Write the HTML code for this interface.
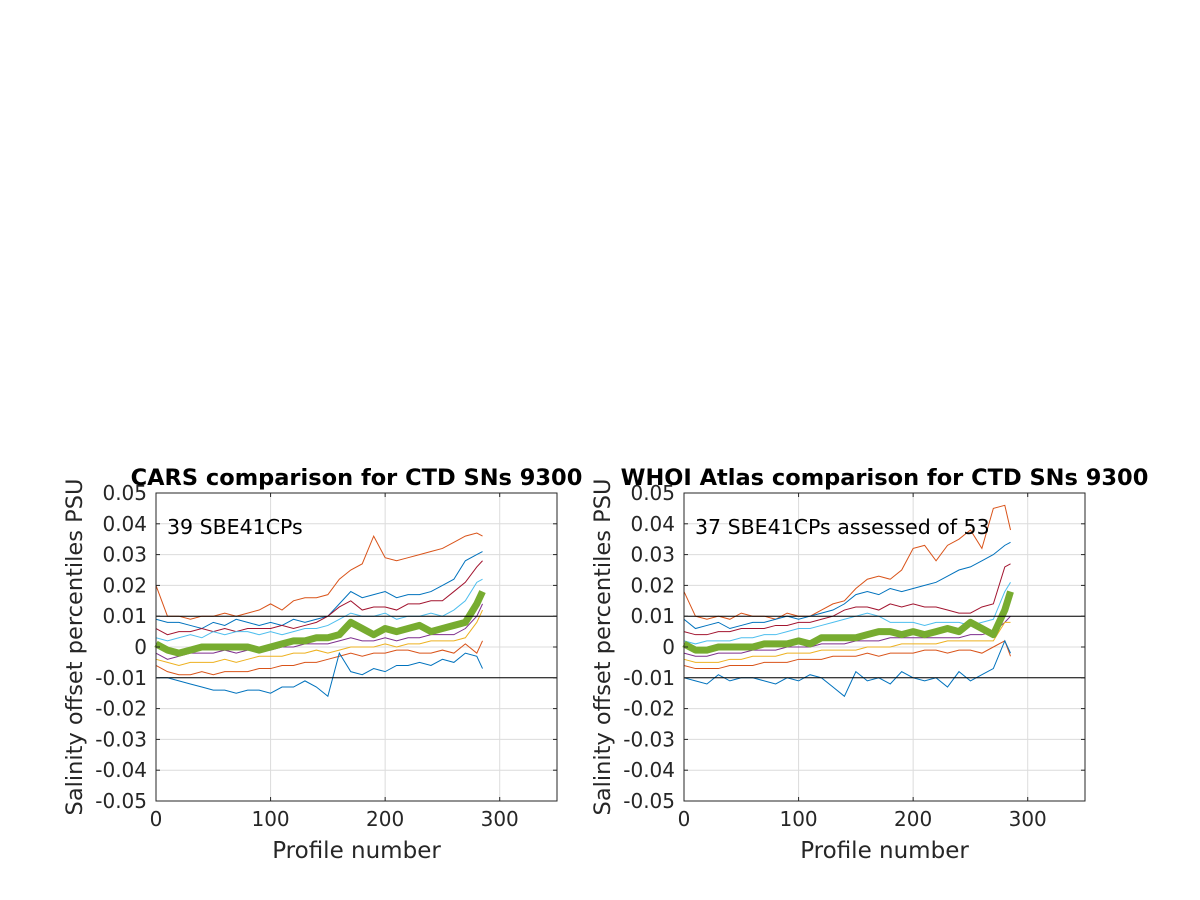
<!DOCTYPE html>
<html><head><meta charset="utf-8"><style>
html,body{margin:0;padding:0;background:#fff;}
svg{display:block;font-family:"DejaVu Sans","Liberation Sans",sans-serif;}
</style></head><body>
<svg id="fig" width="1200" height="900" viewBox="0 0 1200 900"></svg>
<script>
const xTicks=[0,100,200,300];
const yTicks=[0.05,0.04,0.03,0.02,0.01,0,-0.01,-0.02,-0.03,-0.04,-0.05];
const yTickLabels=["0.05","0.04","0.03","0.02","0.01","0","-0.01","-0.02","-0.03","-0.04","-0.05"];
const profiles=[0,10,20,30,40,50,60,70,80,90,100,110,120,130,140,150,160,170,180,190,200,210,220,230,240,250,260,270,280,285];
const seriesColors=["#D95319","#0072BD","#A2142F","#4DBEEE","#7E2F8E","#EDB120","#D95319","#0072BD"];
const L_O1=[.020,.010,.010,.009,.010,.010,.011,.010,.011,.012,.014,.012,.015,.016,.016,.017,.022,.025,.027,.036,.029,.028,.029,.030,.031,.032,.034,.036,.037,.036];
const L_B1=[.009,.008,.008,.007,.006,.008,.007,.009,.008,.007,.008,.007,.009,.008,.009,.010,.014,.018,.016,.017,.018,.016,.017,.017,.018,.020,.022,.028,.030,.031];
const L_R=[.006,.004,.005,.005,.006,.005,.006,.005,.006,.006,.006,.007,.006,.007,.008,.010,.013,.015,.012,.013,.013,.012,.014,.014,.015,.015,.018,.021,.026,.028];
const L_LB=[.003,.002,.003,.004,.003,.005,.004,.005,.005,.004,.005,.004,.005,.006,.006,.007,.009,.011,.010,.010,.011,.009,.010,.010,.011,.010,.012,.015,.021,.022];
const L_P=[-.002,-.004,-.003,-.002,-.002,-.002,-.001,-.002,-.001,-.001,-.001,.000,.000,.001,.001,.001,.002,.003,.002,.002,.003,.002,.003,.003,.004,.004,.004,.006,.010,.014];
const L_Y=[-.004,-.005,-.006,-.005,-.005,-.005,-.004,-.005,-.004,-.003,-.003,-.003,-.002,-.002,-.001,-.002,-.001,.000,.000,.000,.001,.000,.001,.001,.002,.002,.002,.003,.008,.012];
const L_O2=[-.006,-.008,-.009,-.009,-.008,-.009,-.008,-.008,-.008,-.007,-.007,-.006,-.006,-.005,-.005,-.004,-.003,-.002,-.003,-.002,-.002,-.001,-.001,-.002,-.002,-.001,-.002,.001,-.002,.002];
const L_B2=[-.010,-.010,-.011,-.012,-.013,-.014,-.014,-.015,-.014,-.014,-.015,-.013,-.013,-.011,-.013,-.016,-.002,-.008,-.009,-.007,-.008,-.006,-.006,-.005,-.006,-.004,-.005,-.002,-.003,-.007];
const L_G=[.001,-.001,-.002,-.001,.000,.000,.000,.000,.000,-.001,.000,.001,.002,.002,.003,.003,.004,.008,.006,.004,.006,.005,.006,.007,.005,.006,.007,.008,.014,.018];
const R_O1=[.018,.010,.009,.010,.009,.011,.010,.010,.009,.011,.010,.010,.012,.014,.015,.019,.022,.023,.022,.025,.032,.033,.028,.033,.035,.038,.032,.045,.046,.038];
const R_B1=[.009,.006,.007,.008,.006,.007,.008,.008,.009,.010,.009,.010,.011,.012,.014,.017,.018,.017,.019,.018,.019,.020,.021,.023,.025,.026,.028,.030,.033,.034];
const R_R=[.005,.004,.004,.005,.005,.006,.006,.006,.007,.007,.008,.008,.009,.010,.012,.013,.013,.012,.014,.013,.014,.013,.013,.012,.011,.011,.013,.014,.026,.027];
const R_LB=[.002,.001,.002,.002,.002,.003,.003,.004,.004,.005,.006,.006,.007,.008,.009,.010,.011,.010,.008,.008,.008,.007,.008,.008,.008,.007,.008,.009,.018,.021];
const R_P=[-.002,-.003,-.003,-.002,-.002,-.002,-.001,-.001,-.001,.000,.000,.000,.001,.001,.001,.002,.002,.002,.003,.003,.003,.003,.003,.003,.003,.004,.004,.005,.008,.010];
const R_Y=[-.004,-.005,-.005,-.005,-.004,-.004,-.003,-.003,-.003,-.002,-.002,-.002,-.001,-.001,-.001,-.001,.000,.000,.000,.001,.001,.001,.001,.002,.002,.002,.002,.002,.008,.008];
const R_O2=[-.006,-.007,-.007,-.007,-.006,-.006,-.006,-.005,-.005,-.005,-.004,-.004,-.004,-.003,-.003,-.003,-.002,-.003,-.002,-.002,-.002,-.001,-.001,-.002,-.001,-.001,-.002,.000,.002,-.003];
const R_B2=[-.010,-.011,-.012,-.009,-.011,-.010,-.010,-.011,-.012,-.010,-.011,-.009,-.010,-.013,-.016,-.008,-.011,-.010,-.012,-.008,-.010,-.011,-.010,-.013,-.008,-.011,-.009,-.007,.002,-.002];
const R_G=[.001,-.001,-.001,.000,.000,.000,.000,.001,.001,.001,.002,.001,.003,.003,.003,.003,.004,.005,.005,.004,.005,.004,.005,.006,.005,.008,.006,.004,.012,.018];

const NS="http://www.w3.org/2000/svg";
const svg=document.getElementById('fig');
function mk(tag,attrs,parent){const e=document.createElementNS(NS,tag);for(const k in attrs)e.setAttribute(k,attrs[k]);(parent||svg).appendChild(e);return e;}

function panel(x0,x1,title,note,lines,green,pname){
  const y0=493,y1=801;
  const sx=v=>x0+(v/350)*(x1-x0);
  const sy=v=>y0+(0.05-v)/0.1*(y1-y0);
  const g=mk('g',{});
  
  
  xTicks.forEach(t=>{const l=mk('line',{x1:sx(t),x2:sx(t),y1:y0,y2:y1,stroke:'#dcdcdc','stroke-width':1},g);
    });
  yTicks.forEach(t=>{const l=mk('line',{x1:x0,x2:x1,y1:sy(t),y2:sy(t),stroke:'#dcdcdc','stroke-width':1},g);
    });
  lines.forEach((arr,i)=>{
    const p=mk('polyline',{points:arr.map((v,j)=>sx(profiles[j])+','+sy(v)).join(' '),fill:'none',stroke:seriesColors[i],'stroke-width':1},g);
    
    
  });
  const gl=mk('polyline',{points:green.map((v,j)=>sx(profiles[j])+','+sy(v)).join(' '),fill:'none',stroke:'#77AC30','stroke-width':7,'stroke-linejoin':'round'},g);
  
  
  [0.01,-0.01].forEach(v=>{const l=mk('line',{x1:x0,x2:x1,y1:sy(v),y2:sy(v),stroke:'#000','stroke-width':1},g);
    });
  const b=mk('rect',{x:x0,y:y0,width:x1-x0,height:y1-y0,fill:'none',stroke:'#262626','stroke-width':1},g);
  
  xTicks.forEach(t=>{
    mk('line',{x1:sx(t),x2:sx(t),y1:y1,y2:y1-4,stroke:'#262626'},g);
    mk('line',{x1:sx(t),x2:sx(t),y1:y0,y2:y0+4,stroke:'#262626'},g);
    const tx=mk('text',{x:sx(t),y:y1+25,'text-anchor':'middle','font-size':20,fill:'#262626'},g);
    tx.textContent=t;
    
  });
  yTicks.forEach((t,i)=>{
    mk('line',{x1:x0,x2:x0+4,y1:sy(t),y2:sy(t),stroke:'#262626'},g);
    mk('line',{x1:x1,x2:x1-4,y1:sy(t),y2:sy(t),stroke:'#262626'},g);
    const tx=mk('text',{x:x0-9,y:sy(t)+7,'text-anchor':'end','font-size':20,fill:'#262626'},g);
    tx.textContent=yTickLabels[i];
    
  });
  const xl=mk('text',{x:(x0+x1)/2,y:858,'text-anchor':'middle','font-size':23,fill:'#262626'},g);
  xl.textContent='Profile number';
  
  const yl=mk('text',{x:0,y:0,transform:`translate(${x0-74},647) rotate(-90)`,'text-anchor':'middle','font-size':22.5,fill:'#262626'},g);
  yl.textContent='Salinity offset percentiles PSU';
  
  const tt=mk('text',{x:(x0+x1)/2,y:485,'text-anchor':'middle','font-size':22.5,'font-weight':'bold',fill:'#000'},g);
  tt.textContent=title;
  
  const nt=mk('text',{x:x0+11,y:534,'font-size':20.5,fill:'#000'},g);
  nt.textContent=note;
  
}
panel(156,557,'CARS comparison for CTD SNs 9300','39 SBE41CPs',[L_O1,L_B1,L_R,L_LB,L_P,L_Y,L_O2,L_B2],L_G,'cars-panel');
panel(684,1085,'WHOI Atlas comparison for CTD SNs 9300','37 SBE41CPs assessed of 53',[R_O1,R_B1,R_R,R_LB,R_P,R_Y,R_O2,R_B2],R_G,'whoi-panel');
</script>
</body></html>
